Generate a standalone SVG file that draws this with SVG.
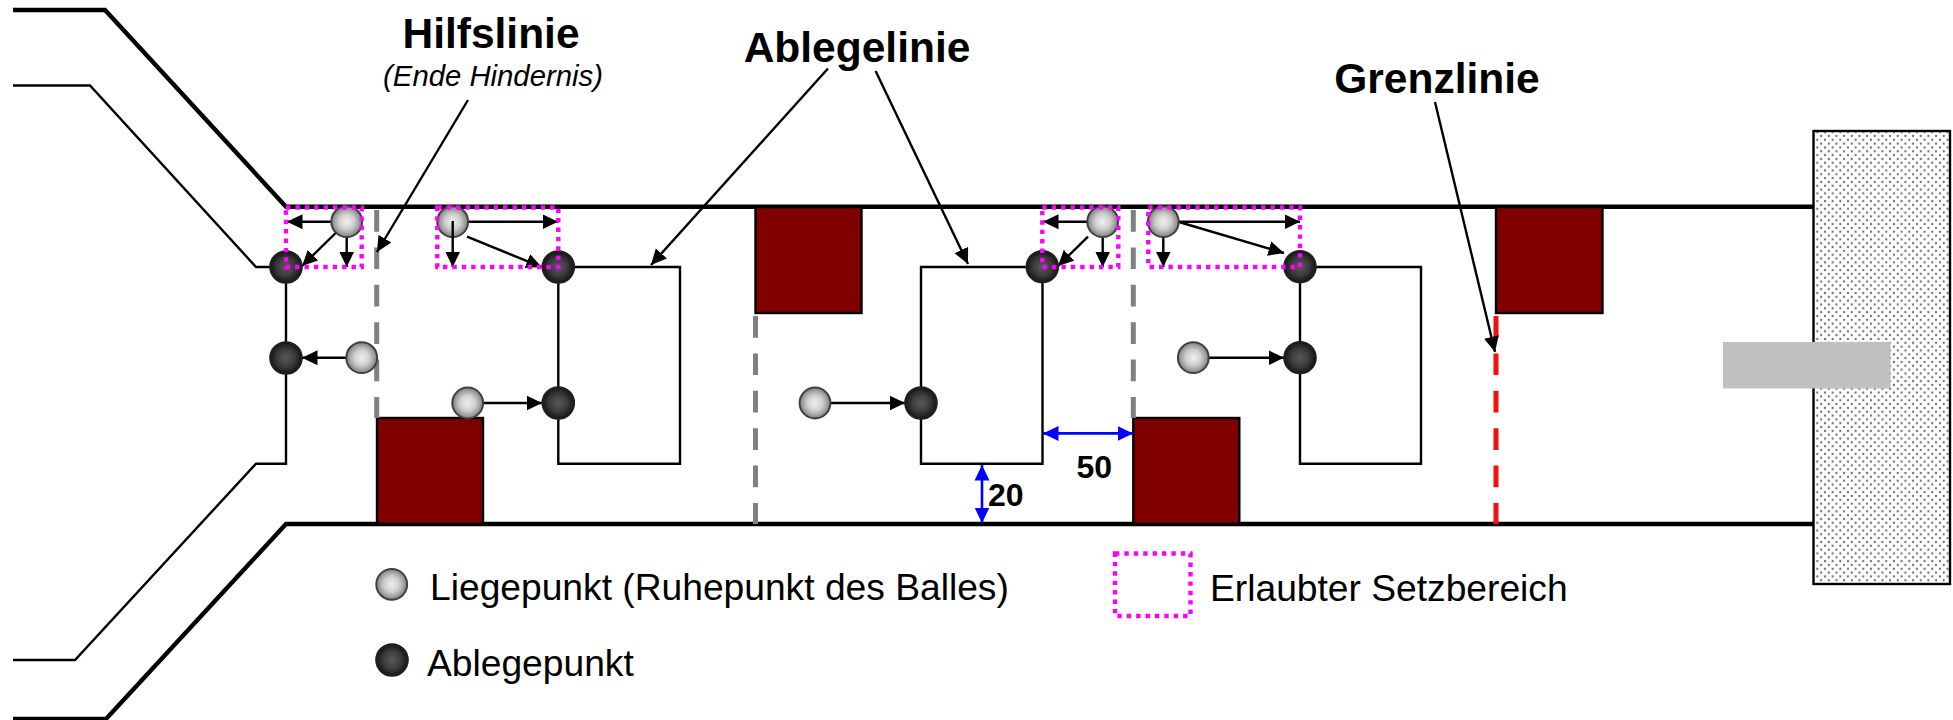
<svg xmlns="http://www.w3.org/2000/svg" width="1953" height="720" viewBox="0 0 1953 720">
<style>
text{font-family:"Liberation Sans",Arial,sans-serif;fill:#000}
.h{font-size:42.5px;font-weight:bold;text-anchor:middle}
.l{font-size:37.2px}
.n{font-size:32px;font-weight:bold}
.thick{fill:none;stroke:#000;stroke-width:4.4}
.thin{fill:none;stroke:#000;stroke-width:2.4}
.ob{fill:#800000;stroke:#000;stroke-width:2.4}
.dg{fill:none;stroke:#808080;stroke-width:5;stroke-dasharray:21.7 15.7}
.dr{fill:none;stroke:#f01010;stroke-width:5;stroke-dasharray:21.7 15.7}
.mag{fill:none;stroke:#ff00ff;stroke-width:4.4;stroke-dasharray:4.4 5}
.ar{fill:none;stroke:#000;stroke-width:2.4;marker-end:url(#ah)}
.bl{fill:none;stroke:#0000ff;stroke-width:2.6;marker-start:url(#bs);marker-end:url(#be)}
.g{fill:url(#gg);stroke:#404040;stroke-width:2}
.k{fill:url(#gk);stroke:#222;stroke-width:1.6}
</style>
<defs>
<radialGradient id="gg"><stop offset="0" stop-color="#efefef"/><stop offset="0.5" stop-color="#cfcfcf"/><stop offset="1" stop-color="#808080"/></radialGradient>
<radialGradient id="gk"><stop offset="0" stop-color="#585858"/><stop offset="0.55" stop-color="#3c3c3c"/><stop offset="1" stop-color="#141414"/></radialGradient>
<marker id="ah" markerUnits="userSpaceOnUse" markerWidth="16" markerHeight="16" refX="15.5" refY="8" orient="auto"><path d="M0,0.5 L15.5,8 L0,15.5 z" fill="#000"/></marker>
<marker id="be" markerUnits="userSpaceOnUse" markerWidth="16" markerHeight="16" refX="15.5" refY="8" orient="auto"><path d="M0,0.5 L15.5,8 L0,15.5 z" fill="#0000ff"/></marker>
<marker id="bs" markerUnits="userSpaceOnUse" markerWidth="16" markerHeight="16" refX="0.5" refY="8" orient="auto"><path d="M16,0.5 L0.5,8 L16,15.5 z" fill="#0000ff"/></marker>
<pattern id="dots" patternUnits="userSpaceOnUse" width="7.66" height="7.66"><rect width="7.66" height="7.66" fill="#fff"/><circle cx="1.9" cy="1.9" r="1.15" fill="#707070"/><circle cx="5.73" cy="5.73" r="1.15" fill="#707070"/></pattern>
<circle id="bg" r="15.4" class="g"/>
<circle id="bk" r="16" class="k"/>
</defs>

<g id="course">
<path class="thick" d="M13,10 H105 L286,206.7 H1813"/>
<path class="thick" d="M13,719 H106 L286,524 H1813"/>
<path class="thin" d="M13,85.5 H90 L256,267 H286 V463.7 H256 L75,660 H13"/>
</g>
<g id="wall"><rect x="1813.5" y="131" width="136.5" height="453" fill="url(#dots)" stroke="#000" stroke-width="2.4"/></g>
<g id="tee"><rect x="1723" y="342" width="167.5" height="46.5" fill="#c0c0c0"/></g>

<g id="drop-areas">
<path class="thin" d="M558.3,267 H680 V463.7 H558.3 Z"/>
<path class="thin" d="M921,267 H1042.5 V463.7 H921 Z"/>
<path class="thin" d="M1300,267 H1421 V463.7 H1300 Z"/>
</g>

<g id="hindernis-1"><rect class="ob" x="377" y="418" width="106" height="106"/></g>
<g id="hindernis-2"><rect class="ob" x="755.5" y="207" width="106" height="106"/></g>
<g id="hindernis-3"><rect class="ob" x="1133.3" y="418" width="106" height="106"/></g>
<g id="hindernis-4"><rect class="ob" x="1496" y="207" width="106.5" height="106"/></g>

<g id="guide-lines">
<path class="dg" d="M376.7,210 V418"/>
<path class="dg" d="M755.5,316 V524"/>
<path class="dg" d="M1133.3,210 V418"/>
<path class="dr" d="M1496,316 V524"/>
</g>

<g id="connectors">
<path class="ar" d="M468,100 L377,252"/>
<path class="ar" d="M828,68.5 L651,265"/>
<path class="ar" d="M875.6,71 L968,264"/>
<path class="ar" d="M1435,102 L1495,352"/>
<path class="ar" d="M332,221.7 H287"/>
<path class="ar" d="M335.7,233 L302,266"/>
<path class="ar" d="M346.7,237 V267"/>
<path class="ar" d="M346.5,357.7 H302"/>
<path class="ar" d="M468,221.7 H558"/>
<path class="ar" d="M467,236.7 L541.7,267"/>
<path class="ar" d="M483,403 H542"/>
<path class="ar" d="M830,403 H905"/>
<path class="ar" d="M1088,236.7 L1058,266"/>
<path class="ar" d="M1088,221.7 H1043"/>
<path class="ar" d="M1102.7,237 V267"/>
<path class="ar" d="M1179,221.7 H1300"/>
<path class="ar" d="M1179,222 L1284,253"/>
<path class="ar" d="M1163.3,237 V267"/>
<path class="ar" d="M1209,357.7 H1284"/>
<path class="bl" d="M1043,433.4 H1133"/>
<path class="bl" d="M982,465 V523"/>
</g>

<g id="ball-g1"><use href="#bg" x="346.7" y="221.7"/></g>
<g id="ball-k1"><use href="#bk" x="286" y="267"/></g>
<g id="ball-g2"><use href="#bg" x="361.7" y="357.7"/></g>
<g id="ball-k2"><use href="#bk" x="286" y="358"/></g>
<g id="ball-g3"><use href="#bg" x="452.7" y="221.7"/></g>
<g id="ball-k3"><use href="#bk" x="558.3" y="267"/></g>
<g id="ball-g4"><use href="#bg" x="467.7" y="403"/></g>
<g id="ball-k4"><use href="#bk" x="558.3" y="403"/></g>
<g id="ball-g5"><use href="#bg" x="815" y="403"/></g>
<g id="ball-k5"><use href="#bk" x="921" y="403"/></g>
<g id="ball-g6"><use href="#bg" x="1102.7" y="221.7"/></g>
<g id="ball-k6"><use href="#bk" x="1042.3" y="266.7"/></g>
<g id="ball-g7"><use href="#bg" x="1163.3" y="221.7"/></g>
<g id="ball-k7"><use href="#bk" x="1300" y="266.7"/></g>
<g id="ball-g8"><use href="#bg" x="1193.3" y="357.7"/></g>
<g id="ball-k8"><use href="#bk" x="1300" y="357.7"/></g>

<path class="ar" d="M452.7,221 V267"/>

<g id="setzbereiche">
<rect class="mag" x="286" y="207.5" width="75.7" height="59.5"/>
<rect class="mag" x="437.3" y="207.5" width="121" height="59.5"/>
<rect class="mag" x="1042.3" y="207.5" width="76" height="59.5"/>
<rect class="mag" x="1148.3" y="207.5" width="151.7" height="59.5"/>
</g>

<g id="labels">
<text class="h" x="491" y="48">Hilfslinie</text>
<text x="493" y="85.5" font-size="29.3" font-style="italic" text-anchor="middle">(Ende Hindernis)</text>
<text class="h" x="857" y="62">Ablegelinie</text>
<text class="h" x="1437" y="93">Grenzlinie</text>
<text class="n" x="1076.5" y="478">50</text>
<text class="n" x="988" y="506">20</text>
</g>

<g id="legend">
<use href="#bg" x="391.7" y="584.3"/>
<text class="l" x="430" y="600">Liegepunkt (Ruhepunkt des Balles)</text>
<use href="#bk" x="392" y="660"/>
<text class="l" x="427" y="676">Ablegepunkt</text>
<rect class="mag" x="1115" y="553.5" width="75.5" height="62.5"/>
<text class="l" x="1210" y="600.5">Erlaubter Setzbereich</text>
</g>
</svg>
